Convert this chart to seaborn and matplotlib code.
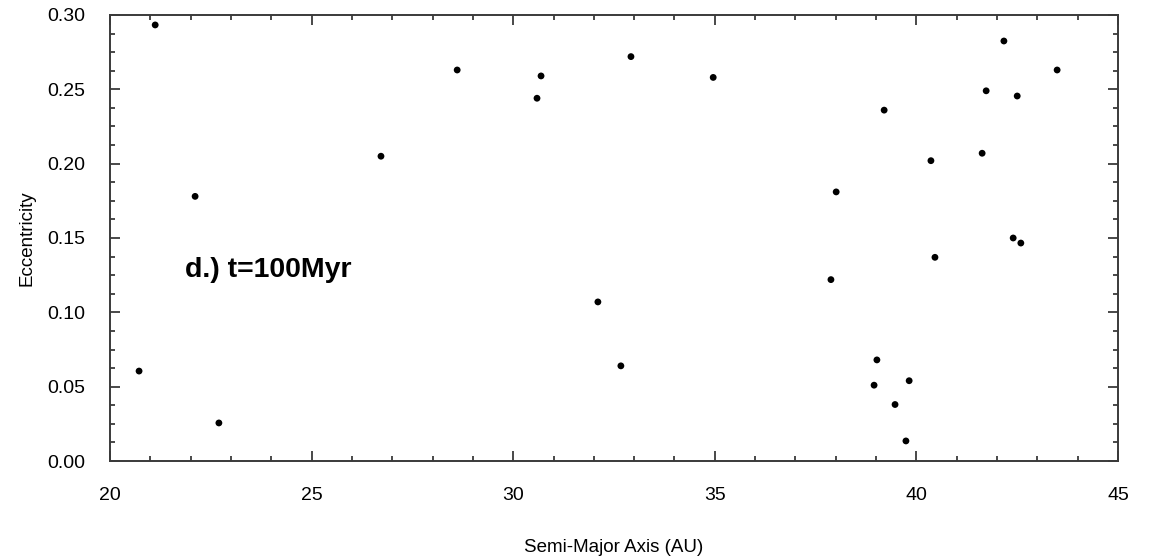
import numpy as np
import pandas as pd
import seaborn as sns
import matplotlib.pyplot as plt
from matplotlib.ticker import MultipleLocator

# --- data ---
semi_major_axis = [20.72, 21.12, 22.11, 22.70, 26.72, 28.61, 30.59, 30.69,
                   32.10, 32.67, 32.92, 34.96, 37.88, 38.01, 38.95, 39.02,
                   39.20, 39.47, 39.74, 39.82, 40.36, 40.46, 41.63, 41.73,
                   42.17, 42.40, 42.50, 42.59, 43.49]
eccentricity = [0.0605, 0.2933, 0.178, 0.0256, 0.205, 0.263, 0.244, 0.259,
                0.107, 0.064, 0.272, 0.258, 0.122, 0.181, 0.051, 0.068,
                0.236, 0.038, 0.0135, 0.054, 0.202, 0.137, 0.207, 0.249,
                0.2825, 0.150, 0.2455, 0.1466, 0.263]
panel_label = "d.) t=100Myr"

df = pd.DataFrame({"a": semi_major_axis, "e": eccentricity})

sns.set_style("ticks")
plt.rcParams["font.family"] = ["Liberation Sans", "DejaVu Sans"]
plt.rcParams["text.color"] = "black"
plt.rcParams["axes.labelcolor"] = "black"

fig = plt.figure(figsize=(11.57, 5.59), dpi=100)
ax = fig.add_axes([0.0951, 0.1753, 0.8712, 0.7979])

sns.scatterplot(data=df, x="a", y="e", ax=ax, color="black", s=24,
                edgecolor="none", linewidth=0, legend=False)

ax.set_xlim(20, 45)
ax.set_ylim(0, 0.30)
ax.xaxis.set_major_locator(MultipleLocator(5))
ax.xaxis.set_minor_locator(MultipleLocator(1))
ax.yaxis.set_major_locator(MultipleLocator(0.05))
ax.yaxis.set_minor_locator(MultipleLocator(0.0125))
ax.yaxis.set_major_formatter(plt.FormatStrFormatter("%.2f"))

spine_col = "#3a3a3a"
for sp in ax.spines.values():
    sp.set_visible(True)
    sp.set_color(spine_col)
    sp.set_linewidth(1.4)

ax.tick_params(which="both", direction="in", top=True, right=True,
               color=spine_col, width=1.3)
ax.tick_params(which="major", length=7.2, labelsize=14, labelcolor="black")
ax.tick_params(which="minor", length=3.8)
ax.tick_params(axis="y", which="major", pad=18)
ax.tick_params(axis="x", which="major", pad=19)

ax.set_xlabel("Semi-Major Axis (AU)", fontsize=13.5, labelpad=25)
ax.set_ylabel("Eccentricity", fontsize=13.5, labelpad=8)

ax.text(0.0744, 0.428, panel_label, transform=ax.transAxes, fontsize=20.5,
        fontweight="bold", va="center", ha="left", color="black")

fig.savefig("out.png", dpi=100)
